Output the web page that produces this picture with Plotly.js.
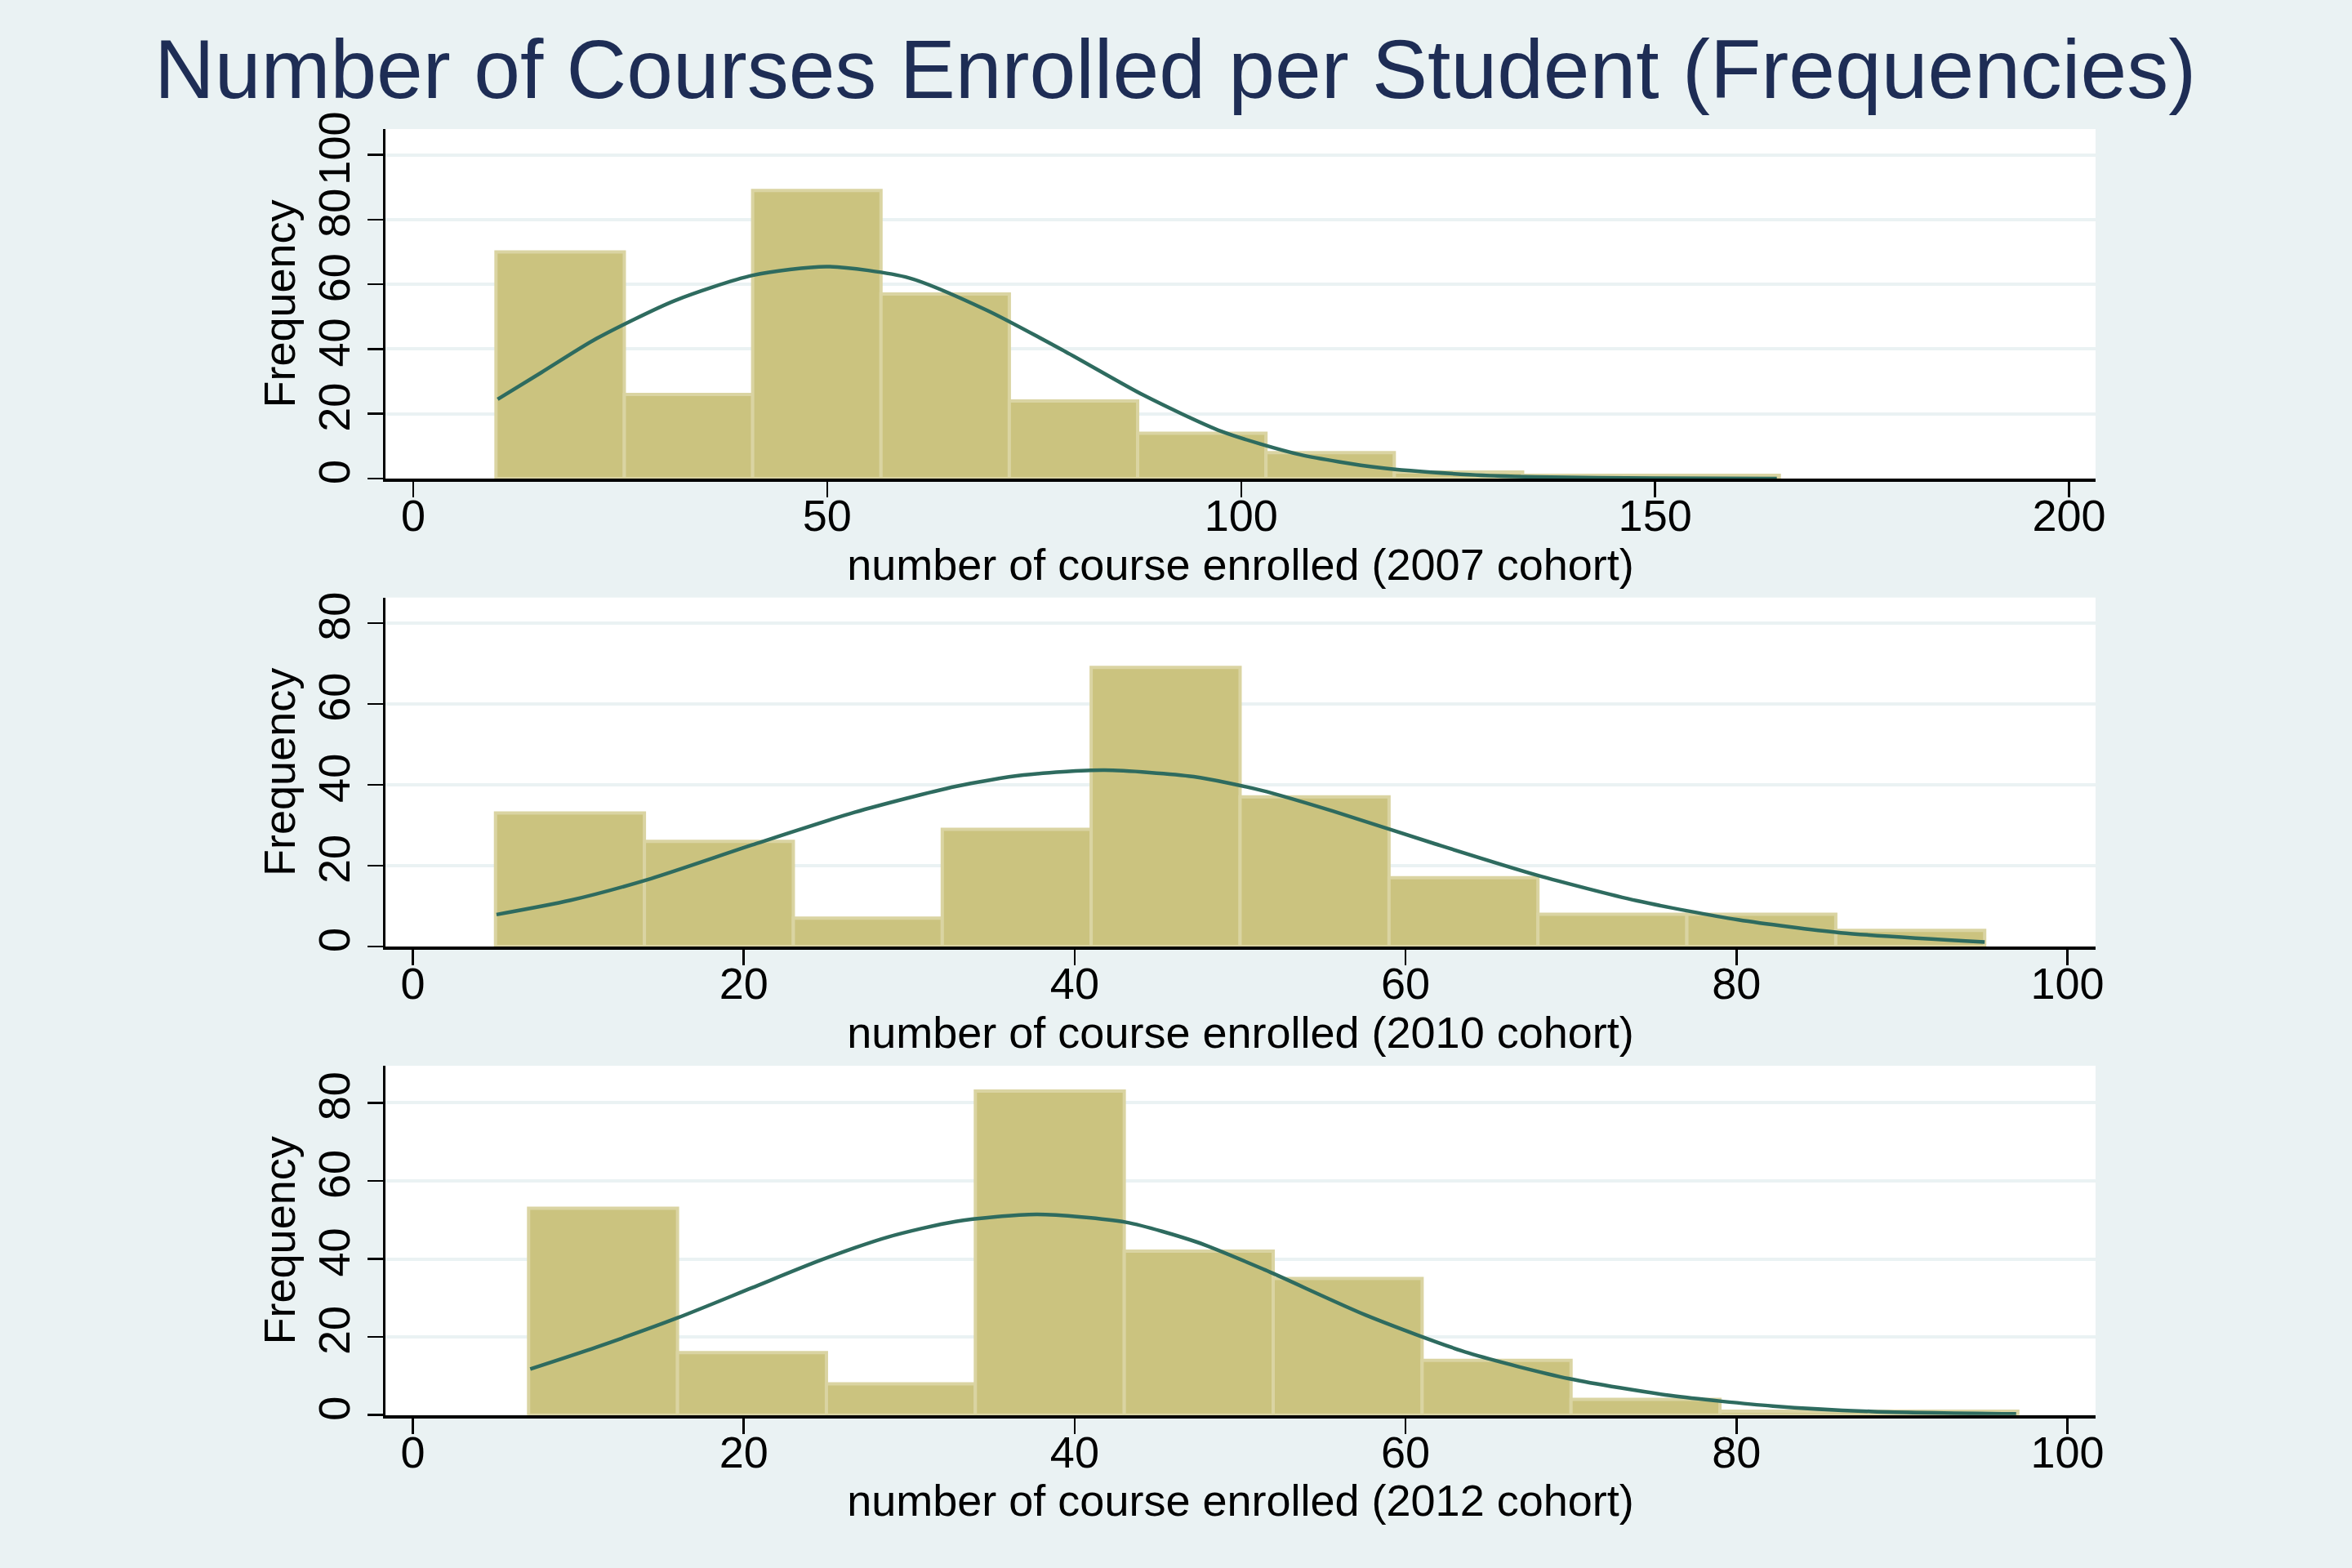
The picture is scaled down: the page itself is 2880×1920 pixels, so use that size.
<!DOCTYPE html>
<html>
<head>
<meta charset="utf-8">
<script src="https://cdn.plot.ly/plotly-3.0.1.min.js"></script>
<style>html,body{margin:0;padding:0;background:#eaf2f3;}#chart{width:2880px;height:1920px;}</style>
</head>
<body>
<div id="chart"></div>
<script>
// ---- Data ----
var chartTitle = "Number of Courses Enrolled per Student (Frequencies)";
var yTitle = "Frequency";

// 2007 cohort
var binEdges2007 = [10, 25.5, 41, 56.5, 72, 87.5, 103, 118.5, 134, 149.5, 165];
var freq2007 = [70, 26, 89, 57, 24, 14, 8, 2, 1, 1];
var normX2007 = [10.2, 15.5, 22.1, 31.6, 41, 50, 59.9, 69.3, 78.8, 88.2, 97.6, 107.1, 116.6, 127.6, 135.5, 150, 164.7];
var normY2007 = [24.5, 32.8, 43.2, 55.0, 62.8, 65.5, 62.0, 52.0, 39.2, 25.8, 14.6, 7.4, 3.4, 1.2, 0.5, 0.1, 0];
var xTicks2007 = [0, 50, 100, 150, 200];
var yTicks2007 = [0, 20, 40, 60, 80, 100];
var xTitle2007 = "number of course enrolled (2007 cohort)";

// 2010 cohort
var binEdges2010 = [5, 14, 23, 32, 41, 50, 59, 68, 77, 86, 95];
var freq2010 = [33, 26, 7, 29, 69, 37, 17, 8, 8, 4];
var normX2010 = [5.06, 9.5, 14.4, 20.5, 26.7, 32.8, 36.9, 41.8, 47.2, 51.3, 55.6, 61.7, 67.9, 74.0, 80.1, 86.3, 95];
var normY2010 = [7.9, 11.4, 16.8, 25.1, 33.2, 39.6, 42.4, 43.6, 42.0, 38.6, 33.5, 25.5, 17.7, 11.3, 6.6, 3.4, 1.1];
var xTicks2010 = [0, 20, 40, 60, 80, 100];
var yTicks2010 = [0, 20, 40, 60, 80];
var xTitle2010 = "number of course enrolled (2010 cohort)";

// 2012 cohort
var binEdges2012 = [7, 16, 25, 34, 43, 52, 61, 70, 79, 88, 97];
var freq2012 = [53, 16, 8, 83, 42, 35, 14, 4, 1, 1];
var normX2012 = [7.1, 11.1, 16.0, 20.5, 24.6, 28.7, 32.8, 37.7, 43.1, 47.4, 51.5, 57.6, 63.8, 69.9, 76.0, 82.2, 88.3, 96.9];
var normY2012 = [11.8, 17.4, 24.9, 32.6, 39.6, 45.6, 49.6, 51.4, 49.4, 44.3, 37.2, 25.6, 15.9, 9.3, 5.0, 2.3, 0.9, 0.3];
var xTicks2012 = [0, 20, 40, 60, 80, 100];
var yTicks2012 = [0, 20, 40, 60, 80];
var xTitle2012 = "number of course enrolled (2012 cohort)";

// ---- Styles ----
var BG = "#eaf2f3";
var BAR_FILL = "#cbc37f";
var BAR_LINE = "#dad4a2";
var CURVE = "#2e6b5f";
var FONT = "Liberation Sans, Arial, Helvetica, sans-serif";

function centers(edges) {
  var c = [];
  for (var i = 0; i < edges.length - 1; i++) c.push((edges[i] + edges[i + 1]) / 2);
  return c;
}
function widths(edges) {
  var w = [];
  for (var i = 0; i < edges.length - 1; i++) w.push(edges[i + 1] - edges[i]);
  return w;
}

function barTrace(edges, freq, xa, ya) {
  return {
    type: "bar", x: centers(edges), y: freq, width: widths(edges),
    xaxis: xa, yaxis: ya,
    marker: {color: BAR_FILL, line: {color: BAR_LINE, width: 4}},
    hoverinfo: "x+y", showlegend: false
  };
}
function curveTrace(xs, ys, xa, ya) {
  return {
    type: "scatter", mode: "lines", x: xs, y: ys, xaxis: xa, yaxis: ya,
    line: {color: CURVE, width: 4.5, shape: "spline", smoothing: 0.7},
    showlegend: false, hoverinfo: "skip"
  };
}

var data = [
  barTrace(binEdges2007, freq2007, "x", "y"),
  curveTrace(normX2007, normY2007, "x", "y"),
  barTrace(binEdges2010, freq2010, "x2", "y2"),
  curveTrace(normX2010, normY2010, "x2", "y2"),
  barTrace(binEdges2012, freq2012, "x3", "y3"),
  curveTrace(normX2012, normY2012, "x3", "y3")
];

var xDom = [472 / 2880, 2566 / 2880];
function yDom(topPx, botPx) { return [1 - botPx / 1920, 1 - topPx / 1920]; }

function xAxis(range, ticks, title, anchor) {
  return {
    domain: xDom, anchor: anchor, range: range,
    tickmode: "array", tickvals: ticks, ticktext: ticks.map(String),
    ticks: "outside", ticklen: 19, tickwidth: 2.5, tickcolor: "#000",
    ticklabelstandoff: -24,
    showline: true, linecolor: "#000", linewidth: 4, mirror: false,
    showgrid: false, zeroline: false,
    tickfont: {family: FONT, size: 54, color: "#000"},
    title: {text: title, font: {family: FONT, size: 54, color: "#000"}, standoff: 0},
    automargin: false
  };
}
function yAxis(range, ticks, dom, anchor) {
  return {
    domain: dom, anchor: anchor, range: range,
    tickmode: "array", tickvals: ticks, ticktext: ticks.map(String),
    ticks: "outside", ticklen: 19, tickwidth: 2.5, tickcolor: "#000",
    tickangle: -90,
    showline: true, linecolor: "#000", linewidth: 3, mirror: false,
    showgrid: true, gridcolor: BG, gridwidth: 4, zeroline: false,
    tickfont: {family: FONT, size: 54, color: "#000"},
    title: {text: yTitle, font: {family: FONT, size: 54, color: "#000"}, standoff: 1},
    automargin: false
  };
}

var layout = {
  width: 2880, height: 1920,
  paper_bgcolor: BG, plot_bgcolor: "#ffffff",
  margin: {l: 0, r: 0, t: 0, b: 0},
  showlegend: false, bargap: 0,
  title: {
    text: chartTitle,
    font: {family: FONT, size: 102, color: "#1e2d55"},
    x: 0.4997, xanchor: "center", xref: "paper",
    y: 1 - 84 / 1920, yanchor: "middle", yref: "container"
  },
  xaxis: xAxis([-3.35, 203.2], xTicks2007, xTitle2007, "y"),
  yaxis: yAxis([0, 108], yTicks2007, yDom(158, 586), "x"),
  xaxis2: xAxis([-1.65, 101.7], xTicks2010, xTitle2010, "y2"),
  yaxis2: yAxis([0, 86.3], yTicks2010, yDom(731.7, 1159), "x2"),
  xaxis3: xAxis([-1.65, 101.7], xTicks2012, xTitle2012, "y3"),
  yaxis3: yAxis([0, 89.5], yTicks2012, yDom(1305, 1732.7), "x3")
};

Plotly.newPlot("chart", data, layout, {displayModeBar: false, staticPlot: true});
</script>
</body>
</html>
